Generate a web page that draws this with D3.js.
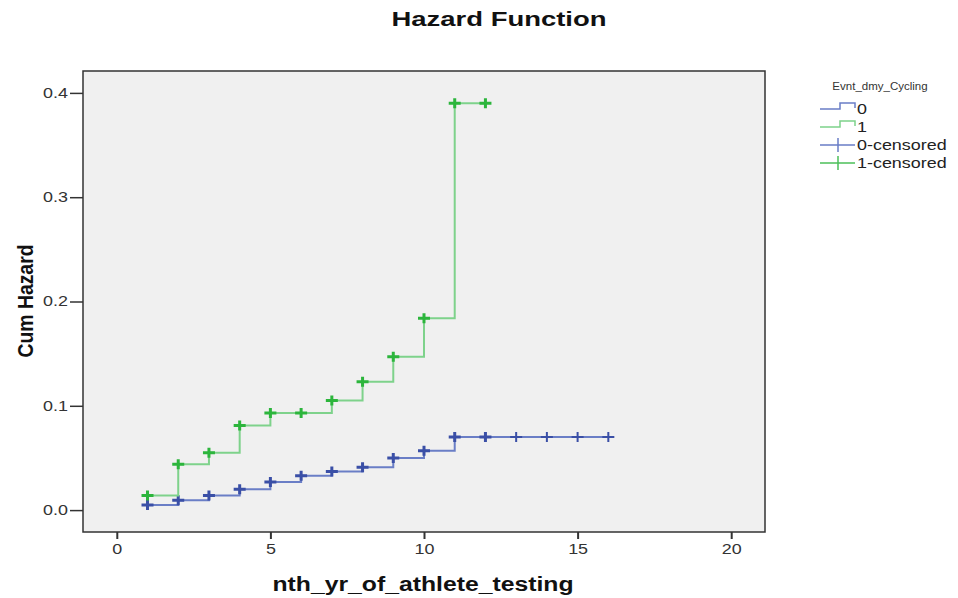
<!DOCTYPE html>
<html>
<head>
<meta charset="utf-8">
<script src="https://cdn.jsdelivr.net/npm/d3@7"></script>
<style>
  body { margin: 0; background: #fff; }
  text { font-family: "Liberation Sans", Arial, sans-serif; }
</style>
</head>
<body>
<div id="chart"></div>
<script>
// data
const times = [1, 2, 3, 4, 5, 6, 7, 8, 9, 10, 11, 12, 13, 14, 15, 16];
const hazard0 = [0.005, 0.0095, 0.014, 0.020, 0.027, 0.033, 0.037, 0.041, 0.050, 0.057, 0.070, 0.070, 0.070, 0.070, 0.070, 0.070];
const times1 = [1, 2, 3, 4, 5, 6, 7, 8, 9, 10, 11, 12];
const hazard1 = [0.014, 0.044, 0.055, 0.081, 0.093, 0.093, 0.105, 0.123, 0.147, 0.184, 0.390, 0.390];
const xTicks = [0, 5, 10, 15, 20];
const yTicks = [0.0, 0.1, 0.2, 0.3, 0.4];
const legendLabels = ['0', '1', '0-censored', '1-censored'];

const W = 958, H = 598;
const plot = { left: 83, top: 71, right: 765, bottom: 532 };

// the source picture is stretched sideways, so widen the text to match
function stretch(sel, k) {
    sel.each(function () {
        const len = this.getComputedTextLength();
        d3.select(this)
            .attr('textLength', len * k)
            .attr('lengthAdjust', 'spacingAndGlyphs');
    });
}

const svg = d3.select('#chart')
    .append('svg')
    .attr('width', W)
    .attr('height', H);

const x = d3.scaleLinear()
    .domain([-1.1, 21.1])
    .range([plot.left, plot.right]);

const y = d3.scaleLinear()
    .domain([-0.021, 0.421])
    .range([plot.bottom, plot.top]);

// plot background
svg.append('rect')
    .attr('x', plot.left)
    .attr('y', plot.top)
    .attr('width', plot.right - plot.left)
    .attr('height', plot.bottom - plot.top)
    .attr('fill', '#f0f0f0');

// series
const series = [
    { key: '0', t: times, h: hazard0, line: '#6a7ec6', mark: '#3a4fa6' },
    { key: '1', t: times1, h: hazard1, line: '#7ed28b', mark: '#2cb53c' }
];

const stepLine = d3.line()
    .x(d => x(d[0]))
    .y(d => y(d[1]))
    .curve(d3.curveStepAfter);

series.forEach(s => {
    const pts = s.t.map((t, i) => [t, s.h[i]]);
    svg.append('path')
        .attr('d', stepLine(pts))
        .attr('fill', 'none')
        .attr('stroke', s.line)
        .attr('stroke-width', 2);

    const g = svg.append('g');
    pts.forEach(p => {
        const cx = x(p[0]), cy = y(p[1]);
        const bold = !(s.key === '0' && p[0] > 12);
        g.append('path')
            .attr('d', `M${cx - 6},${cy}H${cx + 6}M${cx},${cy - 5}V${cy + 5}`)
            .attr('stroke', s.mark)
            .attr('stroke-width', bold ? 3 : 2)
            .attr('fill', 'none');
    });
});

// frame
svg.append('rect')
    .attr('x', plot.left)
    .attr('y', plot.top)
    .attr('width', plot.right - plot.left)
    .attr('height', plot.bottom - plot.top)
    .attr('fill', 'none')
    .attr('stroke', '#333')
    .attr('stroke-width', 1.5);

// axes
const xAxis = svg.append('g')
    .attr('transform', 'translate(0,' + plot.bottom + ')')
    .call(d3.axisBottom(x).tickValues(xTicks).tickSize(7).tickPadding(5).tickFormat(d3.format('d')));
xAxis.select('.domain').remove();
xAxis.selectAll('line').attr('stroke', '#333').attr('stroke-width', 2);
xAxis.selectAll('text').style('font-size', '14px').attr('fill', '#333')
    .style('font-family', '"Liberation Sans", Arial, sans-serif');
stretch(xAxis.selectAll('text'), 1.28);

const yAxis = svg.append('g')
    .attr('transform', 'translate(' + plot.left + ',0)')
    .call(d3.axisLeft(y).tickValues(yTicks).tickSize(13).tickPadding(2).tickFormat(d3.format('.1f')));
yAxis.select('.domain').remove();
yAxis.selectAll('line').attr('stroke', '#333').attr('stroke-width', 1.5);
yAxis.selectAll('text').style('font-size', '14px').attr('fill', '#333')
    .style('font-family', '"Liberation Sans", Arial, sans-serif');
stretch(yAxis.selectAll('text'), 1.28);

// title and axis labels
svg.append('text')
    .attr('x', 499)
    .attr('y', 26)
    .attr('text-anchor', 'middle')
    .attr('textLength', 215)
    .attr('lengthAdjust', 'spacingAndGlyphs')
    .style('font-size', '20px')
    .style('font-weight', 'bold')
    .attr('fill', '#111')
    .text('Hazard Function');

svg.append('text')
    .attr('x', 423)
    .attr('y', 591)
    .attr('text-anchor', 'middle')
    .attr('textLength', 301)
    .attr('lengthAdjust', 'spacingAndGlyphs')
    .style('font-size', '20px')
    .style('font-weight', 'bold')
    .attr('fill', '#111')
    .text('nth_yr_of_athlete_testing');

svg.append('text')
    .attr('transform', 'translate(33,301) rotate(-90)')
    .attr('text-anchor', 'middle')
    .attr('textLength', 113)
    .attr('lengthAdjust', 'spacingAndGlyphs')
    .style('font-size', '22px')
    .style('font-weight', 'bold')
    .attr('fill', '#111')
    .text('Cum Hazard');

// legend
const legend = svg.append('g');
const legendTitle = legend.append('text')
    .attr('x', 880)
    .attr('y', 90)
    .attr('text-anchor', 'middle')
    .style('font-size', '10px')
    .attr('fill', '#333')
    .text('Evnt_dmy_Cycling');
stretch(legendTitle, 1.15);

const legendColors = ['#6a7ec6', '#7ed28b', '#6a7ec6', '#4cc05a'];
legendLabels.forEach((lab, i) => {
    const ly = 109 + i * 18;
    if (i < 2) {
        legend.append('path')
            .attr('d', `M820,${ly}H840V${ly - 6}H855V${ly - 1}`)
            .attr('fill', 'none')
            .attr('stroke', legendColors[i])
            .attr('stroke-width', 1.5);
    } else {
        legend.append('path')
            .attr('d', `M820,${ly}H855M838,${ly - 7}V${ly + 7}`)
            .attr('fill', 'none')
            .attr('stroke', legendColors[i])
            .attr('stroke-width', 1.5);
    }
    const t = legend.append('text')
        .attr('x', 857)
        .attr('y', ly + 5)
        .style('font-size', '14px')
        .attr('fill', '#222')
        .text(lab);
    stretch(t, 1.28);
});
</script>
</body>
</html>
